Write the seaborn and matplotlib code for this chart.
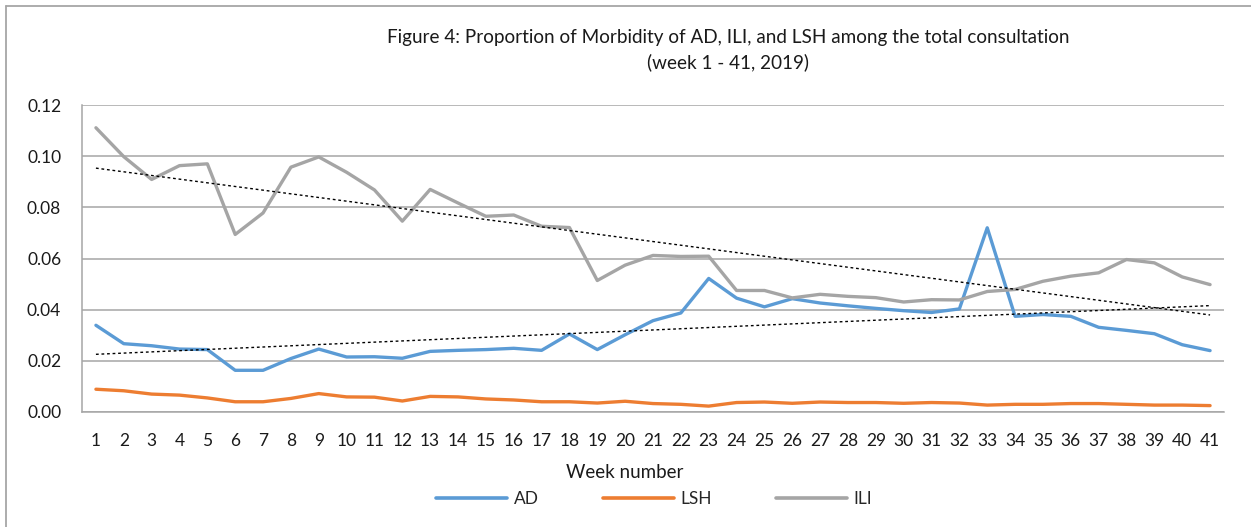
import numpy as np
import pandas as pd
import matplotlib
matplotlib.use("Agg")
import matplotlib.pyplot as plt
from matplotlib.lines import Line2D
from matplotlib.ticker import FormatStrFormatter, FixedLocator
import seaborn as sns

weeks = list(range(1, 42))
ad = [0.0339, 0.0267, 0.0259, 0.0246, 0.0244, 0.0163, 0.0163, 0.0209, 0.0246, 0.0215,
      0.0216, 0.0210, 0.0237, 0.0241, 0.0244, 0.0249, 0.0241, 0.0305, 0.0244, 0.0302,
      0.0357, 0.0387, 0.0522, 0.0445, 0.0411, 0.0443, 0.0426, 0.0415, 0.0405, 0.0396,
      0.0389, 0.0403, 0.0720, 0.0374, 0.0381, 0.0374, 0.0331, 0.0319, 0.0306, 0.0263,
      0.0240]
lsh = [0.0089, 0.0083, 0.0070, 0.0066, 0.0055, 0.0040, 0.0040, 0.0053, 0.0072, 0.0059,
       0.0058, 0.0043, 0.0061, 0.0059, 0.0051, 0.0047, 0.0040, 0.0040, 0.0035, 0.0042,
       0.0033, 0.0030, 0.0023, 0.0037, 0.0039, 0.0034, 0.0039, 0.0037, 0.0037, 0.0034,
       0.0037, 0.0035, 0.0027, 0.0030, 0.0030, 0.0033, 0.0033, 0.0030, 0.0027, 0.0027,
       0.0025]
ili = [0.1111, 0.0998, 0.0909, 0.0963, 0.0970, 0.0694, 0.0778, 0.0957, 0.0997, 0.0937,
       0.0868, 0.0746, 0.0870, 0.0817, 0.0765, 0.0770, 0.0726, 0.0721, 0.0514, 0.0574,
       0.0612, 0.0608, 0.0609, 0.0475, 0.0475, 0.0446, 0.0460, 0.0452, 0.0447, 0.0430,
       0.0439, 0.0438, 0.0471, 0.0479, 0.0511, 0.0531, 0.0544, 0.0596, 0.0583, 0.0528,
       0.0498]
series_names = ["AD", "LSH", "ILI"]
colors = ["#5b9bd5", "#ed7d31", "#a5a5a5"]
y_ticks = [0.00, 0.02, 0.04, 0.06, 0.08, 0.10, 0.12]
title_lines = ["Figure 4: Proportion of Morbidity of AD, ILI, and LSH among the total consultation",
               "(week 1 - 41, 2019)"]
x_label = "Week number"

df = pd.DataFrame({
    "week": weeks * 3,
    "value": ad + lsh + ili,
    "series": sum([[n] * len(weeks) for n in series_names], []),
})

sns.set_style("white")
plt.rcParams["font.family"] = ["Lato", "DejaVu Sans"]

W, H = 1251, 527
fig = plt.figure(figsize=(W / 100, H / 100), dpi=100)
ax = fig.add_axes([82 / W, 1 - 412 / H, (1224 - 82) / W, (412 - 105) / H])

sns.lineplot(data=df, x="week", y="value", hue="series", hue_order=series_names,
             palette=colors, linewidth=2.4, ax=ax, legend=False, sort=False)

trend_kws = dict(scatter=False, ci=None, truncate=True,
                 line_kws=dict(color="black", linewidth=1.0, linestyle=(0, (2, 2))))
sns.regplot(x=np.array(weeks), y=np.array(ili), ax=ax, **trend_kws)
sns.regplot(x=np.array(weeks), y=np.array(ad), ax=ax, **trend_kws)

ax.set_xlim(0.5, 41.5)
ax.set_ylim(0, 0.12)
ax.set_yticks(y_ticks)
ax.yaxis.set_major_formatter(FormatStrFormatter("%.2f"))
ax.set_xticks(weeks)
ax.set_xticklabels([str(w) for w in weeks])
ax.xaxis.set_minor_locator(FixedLocator(np.arange(0.5, 42, 1)))
ax.tick_params(axis="x", which="major", length=0, pad=15, labelsize=12.5, colors="#1a1a1a")
ax.tick_params(axis="x", which="minor", length=6, width=1, color="#a6a6a6")
ax.tick_params(axis="y", which="major", length=4, width=1, color="#a6a6a6", pad=11,
               labelsize=12.5, labelcolor="#1a1a1a")
ax.grid(axis="y", color="#a6a6a6", linewidth=1.1)
ax.grid(axis="x", visible=False)
ax.set_axisbelow(True)
for side in ["top", "right"]:
    ax.spines[side].set_visible(False)
for side in ["left", "bottom"]:
    ax.spines[side].set_color("#a6a6a6")
    ax.spines[side].set_linewidth(1.1)
ax.set_xlabel("")
ax.set_ylabel("")

fig.text(728 / W, 1 - 37 / H, title_lines[0], ha="center", va="center",
         fontsize=13.6, color="#1a1a1a")
fig.text(728 / W, 1 - 62 / H, title_lines[1], ha="center", va="center",
         fontsize=13.6, color="#1a1a1a")
fig.text(625 / W, 1 - 473 / H, x_label, ha="center", va="center",
         fontsize=13.5, color="#1a1a1a")

handles = [plt.Line2D([], [], color=c, linewidth=2.6) for c in colors]
fig.legend(handles, series_names, loc="center", bbox_to_anchor=(654 / W, 1 - 499 / H),
           ncol=3, frameon=False, handlelength=4.1, columnspacing=3.7, handletextpad=0.35,
           fontsize=12.5)

# chart-area frame (only top and left edges visible in the reference)
fig.add_artist(Line2D([5.5 / W, 1.0], [1 - 5.5 / H, 1 - 5.5 / H], transform=fig.transFigure,
                      color="#a6a6a6", linewidth=1.3))
fig.add_artist(Line2D([5.5 / W, 5.5 / W], [0.0, 1 - 5.5 / H], transform=fig.transFigure,
                      color="#a6a6a6", linewidth=1.3))

fig.savefig("out.png", dpi=100)
